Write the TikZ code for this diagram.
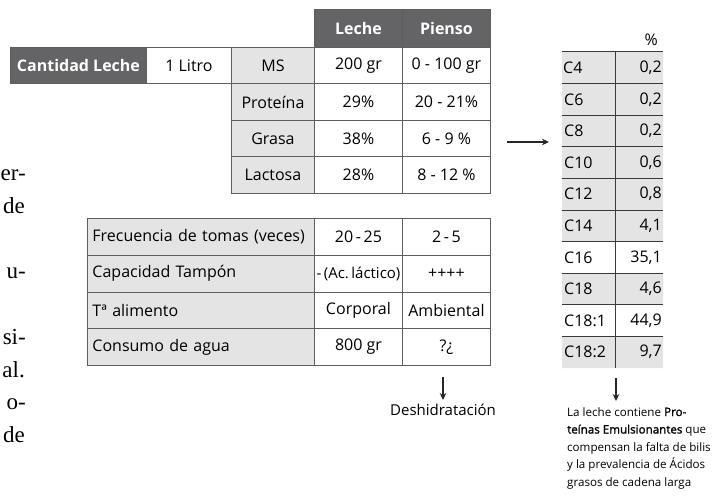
\documentclass[tikz,border=0pt]{standalone}
\usepackage{fontspec}
\setmainfont{Liberation Serif}
\setsansfont{Open Sans}
\newfontfamily\notefont{Open Sans}
\newfontfamily\notebold{Open Sans}[FakeBold=1.6]
\usetikzlibrary{arrows.meta}
\definecolor{hdrgray}{HTML}{646466}
\definecolor{cellgray}{HTML}{E4E4E4}
\definecolor{rulegray}{HTML}{5E5E5E}
\definecolor{fagray}{HTML}{3A3A3A}
\tikzset{
	cell/.style={draw=rulegray, line width=0.9pt, anchor=north west, inner sep=0pt, font=\sffamily\fontsize{16}{18}\selectfont},
	darkcell/.style={cell, fill=hdrgray, text=white, font=\sffamily\bfseries\fontsize{16}{18}\selectfont},
	graycell/.style={cell, fill=cellgray},
	rowlabel/.style={graycell, minimum width=227pt, minimum height=36.75pt, inner xsep=5pt, text width=217pt, align=left},
	facid/.style={anchor=west, inner sep=0pt, font=\sffamily\fontsize{16}{18}\selectfont},
	faval/.style={anchor=east, inner sep=0pt, font=\sffamily\fontsize{16}{18}\selectfont},
	pagetext/.style={anchor=base east, inner sep=0pt, font=\rmfamily\fontsize{23}{26}\selectfont},
	arr/.style={-{Stealth[length=7pt,width=6.5pt]}, line width=1.4pt, black!85}
}
\begin{document}
\begin{tikzpicture}[x=1pt,y=-1pt]
			\useasboundingbox (0,0) rectangle (715,500);
			\node[pagetext] (p1) at (26,180) {er-};
			\node[pagetext] (p2) at (25,213) {de};
			\node[pagetext] (p3) at (26,278) {u-};
			\node[pagetext] (p4) at (26,344) {si-};
			\node[pagetext] (p5) at (25,377) {al.};
			\node[pagetext] (p6) at (26,409) {o-};
			\node[pagetext] (p7) at (25,442) {de};
			\node[darkcell, minimum width=88pt, minimum height=38pt] (leche) at (314,9) {Leche};
			\node[darkcell, minimum width=88pt, minimum height=38pt] (pienso) at (402,9) {Pienso};
			\node[darkcell, minimum width=136pt, minimum height=36.5pt] (cantidad) at (10,47) {Cantidad Leche};
			\node[cell, minimum width=85pt, minimum height=36.5pt] (litro) at (146,47) {1 Litro\hspace{16pt}};
			\node[graycell, minimum width=83pt, minimum height=36.5pt] (ms) at (231,47) {MS};
			\node[graycell, minimum width=83pt, minimum height=36.5pt] (prot) at (231,83.5) {Proteína};
			\node[graycell, minimum width=83pt, minimum height=36.5pt] (grasa) at (231,120) {Grasa};
			\node[graycell, minimum width=83pt, minimum height=36.5pt] (lact) at (231,156.5) {Lactosa};
			\node[cell, minimum width=88pt, minimum height=36.5pt] (ms1) at (314,47) {200 gr};
			\node[cell, minimum width=88pt, minimum height=36.5pt] (prot1) at (314,83.5) {29\%};
			\node[cell, minimum width=88pt, minimum height=36.5pt] (grasa1) at (314,120) {38\%};
			\node[cell, minimum width=88pt, minimum height=36.5pt] (lact1) at (314,156.5) {28\%};
			\node[cell, minimum width=88pt, minimum height=36.5pt] (ms2) at (402,47) {0 - 100 gr};
			\node[cell, minimum width=88pt, minimum height=36.5pt] (prot2) at (402,83.5) {20 - 21\%};
			\node[cell, minimum width=88pt, minimum height=36.5pt] (grasa2) at (402,120) {6 - 9 \%};
			\node[cell, minimum width=88pt, minimum height=36.5pt] (lact2) at (402,156.5) {8 - 12 \%};
			\node[rowlabel] (frec) at (87,218) {Frecuencia de tomas (veces)};
			\node[rowlabel] (tampon) at (87,254.75) {Capacidad Tampón};
			\node[rowlabel] (temp) at (87,291.5) {Tª alimento};
			\node[rowlabel] (agua) at (87,328.25) {Consumo de agua};
			\node[cell, minimum width=88pt, minimum height=36.75pt] (frec1) at (314,218) {20\,-\,25};
			\node[cell, minimum width=88pt, minimum height=36.75pt] (tampon1) at (314,254.75) {\fontsize{15}{18}\selectfont-\,(Ac.\,láctico)};
			\node[cell, minimum width=88pt, minimum height=36.75pt] (temp1) at (314,291.5) {Corporal};
			\node[cell, minimum width=88pt, minimum height=36.75pt] (agua1) at (314,328.25) {800 gr};
			\node[cell, minimum width=88pt, minimum height=36.75pt] (frec2) at (402,218) {2\,-\,5};
			\node[cell, minimum width=88pt, minimum height=36.75pt] (tampon2) at (402,254.75) {++++};
			\node[cell, minimum width=88pt, minimum height=36.75pt] (temp2) at (402,291.5) {Ambiental};
			\node[cell, minimum width=88pt, minimum height=36.75pt] (agua2) at (402,328.25) {?¿};
			\fill[cellgray] (562,52) rectangle (663,241.6) (562,273.2) rectangle (663,304.8) (562,336.4) rectangle (663,368);
			\draw[fagray, line width=1pt]
			(562,52)--(663,52) (562,83.6)--(663,83.6) (562,115.2)--(663,115.2) (562,146.8)--(663,146.8)
			(562,178.4)--(663,178.4) (562,210)--(663,210) (562,241.6)--(663,241.6) (562,273.2)--(663,273.2)
			(562,304.8)--(663,304.8) (562,336.4)--(663,336.4) (615,52)--(615,368);
			\node[faval] (pct) at (658,40) {\%};
			\node[facid] (c4) at (563,67.8) {C4};
			\node[facid] (c6) at (564,99.4) {C6};
			\node[facid] (c8) at (564,131) {C8};
			\node[facid] (c10) at (564,162.6) {C10};
			\node[facid] (c12) at (564,194.2) {C12};
			\node[facid] (c14) at (564,225.8) {C14};
			\node[facid] (c16) at (564,257.4) {C16};
			\node[facid] (c18) at (564,289) {C18};
			\node[facid] (c181) at (564,320.6) {C18:1};
			\node[facid] (c182) at (564,352.2) {C18:2};
			\node[faval] (v4) at (662,67.8) {0,2};
			\node[faval] (v6) at (662,99.4) {0,2};
			\node[faval] (v8) at (662,131) {0,2};
			\node[faval] (v10) at (662,162.6) {0,6};
			\node[faval] (v12) at (662,194.2) {0,8};
			\node[faval] (v14) at (662,225.8) {4,1};
			\node[faval] (v16) at (662,257.4) {35,1};
			\node[faval] (v18) at (662,289) {4,6};
			\node[faval] (v181) at (662,320.6) {44,9};
			\node[faval] (v182) at (662,352.2) {9,7};
			\coordinate (a1) at (507,142);
			\coordinate (a2) at (549,142);
			\draw[arr] (a1)--(a2);
			\coordinate (b1) at (443,377);
			\coordinate (b2) at (443,400);
			\draw[arr] (b1)--(b2);
			\node[inner sep=0pt, anchor=north, font=\sffamily\fontsize{15}{16}\selectfont] (deshidr) at (443,404) {Deshidratación};
			\coordinate (c1) at (616,378);
			\coordinate (c2) at (616,401);
			\draw[arr] (c1)--(c2);
			\node[inner sep=0pt, anchor=north west, align=left, font=\notefont\fontsize{11.6}{17.5}\selectfont] (nota) at (567,407)
			{La leche contiene {\notebold Pro-}\\ {\notebold teínas Emulsionantes} que\\ compensan la falta de bilis\\ y la prevalencia de Ácidos\\ grasos de cadena larga};
		\end{tikzpicture}
\end{document}
